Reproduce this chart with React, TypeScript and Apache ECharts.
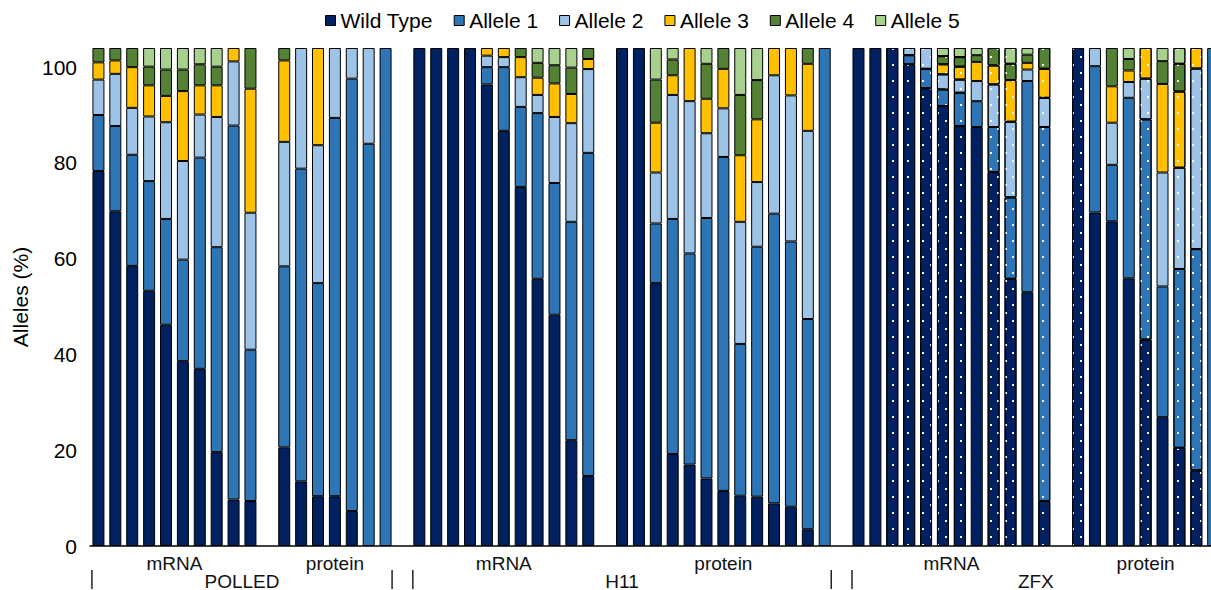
import React, { useEffect, useRef } from "react";
import * as echarts from "echarts";

const seriesNames = ["Wild Type", "Allele 1", "Allele 2", "Allele 3", "Allele 4", "Allele 5"];
const colors = ["#002060", "#2E75B6", "#9DC3E6", "#FFC000", "#548235", "#A9D18E"];

const subgroups = [
  { group: "POLLED", label: "mRNA", count: 10 },
  { group: "POLLED", label: "protein", count: 7 },
  { group: "H11", label: "mRNA", count: 11 },
  { group: "H11", label: "protein", count: 13 },
  { group: "ZFX", label: "mRNA", count: 12 },
  { group: "ZFX", label: "protein", count: 9 },
];
const groups = ["POLLED", "H11", "ZFX"];
const yTickValues = [0, 20, 40, 60, 80, 100];

// order: POLLED mRNA, POLLED protein, H11 mRNA, H11 protein, ZFX mRNA, ZFX protein
const wildType = [
  78.3, 69.9, 58.5, 53.3, 46.2, 38.6, 37.0, 19.6, 9.7, 9.4,
  20.6, 13.5, 10.4, 10.4, 7.3, 0, 0,
  104, 104, 104, 104, 96.4, 86.7, 75.0, 55.8, 48.3, 22.1, 14.6,
  104, 104, 54.9, 19.2, 17.0, 14.1, 11.5, 10.5, 10.3, 8.9, 8.2, 3.5, 0,
  104, 104, 104, 100.6, 95.6, 91.9, 87.7, 87.5, 78.1, 55.8, 53.0, 9.4,
  104, 69.65, 67.8, 55.9, 43.1, 26.9, 20.5, 15.8, 0,
];
const allele1 = [
  11.7, 17.8, 23.2, 22.9, 22.1, 21.2, 44.1, 42.8, 78.1, 31.6,
  37.8, 65.3, 44.5, 79.0, 90.3, 84.0, 104,
  0, 0, 0, 0, 3.6, 13.3, 16.7, 34.6, 27.5, 45.6, 67.5,
  0, 0, 12.45, 49.1, 44.1, 54.4, 69.75, 31.7, 52.2, 60.5, 55.4, 43.9, 104,
  0, 0, 0, 1.9, 4.05, 3.45, 6.95, 5.4, 9.4, 17.0, 44.1, 78.1,
  0, 30.55, 11.8, 37.7, 46.0, 27.3, 37.35, 46.2, 104,
];
const allele2 = [
  7.4, 10.9, 9.8, 13.5, 20.2, 20.6, 9.0, 27.2, 13.4, 28.6,
  26.0, 25.2, 28.8, 14.6, 6.4, 20.0, 0,
  0, 0, 0, 0, 2.4, 2.1, 6.2, 3.8, 13.8, 20.6, 17.5,
  0, 0, 10.65, 25.9, 31.8, 17.7, 10.15, 25.5, 13.5, 28.9, 30.5, 39.3, 0,
  0, 0, 0, 1.5, 4.35, 3.15, 2.75, 4.2, 8.9, 15.8, 2.4, 6.1,
  0, 3.8, 8.8, 3.3, 8.5, 23.8, 21.15, 37.7, 0,
];
const allele3 = [
  3.6, 2.8, 8.5, 6.5, 5.5, 14.6, 6.1, 6.6, 2.8, 25.9,
  17.0, 0, 20.3, 0, 0, 0, 0,
  0, 0, 0, 0, 1.6, 1.9, 4.2, 3.6, 7.0, 6.1, 2.1,
  0, 0, 10.4, 4.1, 11.1, 7.2, 8.25, 13.9, 13.1, 5.7, 9.9, 14.0, 0,
  0, 0, 0, 0, 0, 2.1, 2.7, 4.0, 3.95, 8.7, 1.4, 6.05,
  0, 0, 7.6, 2.4, 6.4, 18.5, 15.9, 4.3, 0,
];
const allele4 = [
  3.0, 2.6, 4.0, 3.9, 5.5, 4.5, 4.4, 3.9, 0, 8.5,
  2.6, 0, 0, 0, 0, 0, 0,
  0, 0, 0, 0, 0, 0, 1.9, 3.1, 3.8, 5.5, 2.3,
  0, 0, 9.0, 3.3, 0, 7.3, 4.35, 12.6, 8.2, 0, 0, 3.3, 0,
  0, 0, 0, 0, 0, 1.7, 2.0, 1.4, 3.65, 3.4, 1.7, 4.35,
  0, 0, 8.0, 2.4, 0, 4.75, 5.8, 0, 0,
];
const allele5 = [
  0, 0, 0, 3.9, 4.5, 4.5, 3.4, 3.9, 0, 0,
  0, 0, 0, 0, 0, 0, 0,
  0, 0, 0, 0, 0, 0, 0, 3.1, 3.6, 4.1, 0,
  0, 0, 6.6, 2.4, 0, 3.3, 0, 9.8, 6.7, 0, 0, 0, 0,
  0, 0, 0, 0, 0, 1.7, 1.9, 1.5, 0, 3.3, 1.4, 0,
  0, 0, 0, 2.3, 0, 2.75, 3.3, 0, 0,
];
// 1 = bar drawn with a dotted pattern
const dotted = [
  0, 0, 0, 0, 0, 0, 0, 0, 0, 0,
  0, 0, 0, 0, 0, 0, 0,
  0, 0, 0, 0, 0, 0, 0, 0, 0, 0, 0,
  0, 0, 0, 0, 0, 0, 0, 0, 0, 0, 0, 0, 0,
  0, 0, 1, 1, 1, 1, 1, 0, 1, 1, 0, 1,
  1, 0, 0, 0, 1, 0, 1, 1, 0,
];

const FONT = "'Liberation Sans', Arial, Helvetica, sans-serif";

export default function App() {
  const ref = useRef<HTMLDivElement>(null);
  useEffect(() => {
    const prevMargin = document.body.style.margin;
    const prevOverflow = document.body.style.overflow;
    document.body.style.margin = "0";
    document.body.style.overflow = "hidden";
    const chart = echarts.init(ref.current!, null, { renderer: "svg" });

    const slots: string[] = [];
    const barSlot: number[] = [];
    const subFirstLast: { first: string; last: string }[] = [];
    subgroups.forEach((sg, i) => {
      const first = slots.length;
      for (let k = 0; k < sg.count; k++) {
        barSlot.push(slots.length);
        slots.push(`${sg.group} ${sg.label} ${k + 1}`);
      }
      subFirstLast.push({ first: slots[first], last: slots[slots.length - 1] });
      if (i < subgroups.length - 1) slots.push(`gap ${i + 1}`);
    });

    const allSeries = [wildType, allele1, allele2, allele3, allele4, allele5];
    const decal = {
      symbol: "rect",
      symbolSize: 1,
      color: "rgba(255,255,255,0.95)",
      dashArrayX: [[2, 13], [0, 7, 2, 6]],
      dashArrayY: [2, 6],
    };

    const series = seriesNames.map((name, si) => {
      const data: any[] = slots.map(() => null);
      allSeries[si].forEach((v, bi) => {
        if (v > 0) {
          data[barSlot[bi]] = dotted[bi] ? { value: v, itemStyle: { decal } } : v;
        }
      });
      return {
        name,
        type: "bar",
        stack: "total",
        barWidth: 12,
        data,
        itemStyle: { color: colors[si], borderColor: "#000", borderWidth: 1 },
        emphasis: { disabled: true },
      };
    });

    chart.setOption({
      animation: false,
      textStyle: { fontFamily: FONT },
      legend: {
        data: seriesNames,
        left: 325,
        top: 10,
        padding: 0,
        itemWidth: 10,
        itemHeight: 10,
        itemGap: 21,
        icon: "rect",
        selectedMode: false,
        itemStyle: { borderColor: "#000", borderWidth: 1 },
        textStyle: { fontSize: 21, color: "#000", fontFamily: FONT },
      },
      grid: { left: 90, top: 48, width: 67 * 16.89, height: 498, containLabel: false },
      xAxis: {
        type: "category",
        data: slots,
        axisLine: { lineStyle: { color: "#000", width: 1.5 } },
        axisTick: { show: false },
        axisLabel: { show: false },
      },
      yAxis: {
        type: "value",
        min: 0,
        max: 104,
        interval: 20,
        name: "Alleles (%)",
        nameLocation: "middle",
        nameGap: 50,
        nameTextStyle: { fontSize: 21, color: "#000", fontFamily: FONT },
        axisLine: { show: false },
        axisTick: { show: false },
        splitLine: { show: false },
        axisLabel: {
          fontSize: 21,
          color: "#000",
          margin: 13,
          formatter: (v: number) => (yTickValues.indexOf(v) >= 0 ? String(v) : ""),
        },
      },
      series,
    });

    const px = (name: string) => chart.convertToPixel({ xAxisIndex: 0 }, name) as number;
    const half = 6.5;
    const graphic: any[] = [];
    subgroups.forEach((sg, i) => {
      const a = px(subFirstLast[i].first);
      const b = px(subFirstLast[i].last);
      graphic.push({
        type: "text",
        x: (a + b) / 2,
        y: 563,
        style: { text: sg.label, fontSize: 19, fill: "#111", textAlign: "center", textVerticalAlign: "middle", fontFamily: FONT },
      });
    });
    groups.forEach((g) => {
      const idx = subgroups.map((s, i) => (s.group === g ? i : -1)).filter((i) => i >= 0);
      const left = px(subFirstLast[idx[0]].first) - half;
      const right = px(subFirstLast[idx[idx.length - 1]].last) + half;
      graphic.push({
        type: "text",
        x: (left + right) / 2,
        y: 590,
        style: {
          text: g,
          fontSize: 19,
          lineHeight: 18,
          fill: "#111",
          textAlign: "center",
          textVerticalAlign: "bottom",
          fontFamily: FONT,
        },
      });
      [left, right].forEach((x) => {
        graphic.push({
          type: "line",
          shape: { x1: x, y1: 570, x2: x, y2: 589 },
          style: { stroke: "#000", lineWidth: 1.3 },
        });
      });
    });
    chart.setOption({ graphic });

    return () => {
      chart.dispose();
      document.body.style.margin = prevMargin;
      document.body.style.overflow = prevOverflow;
    };
  }, []);
  return <div ref={ref} style={{ width: 1236, height: 590 }} />;
}
